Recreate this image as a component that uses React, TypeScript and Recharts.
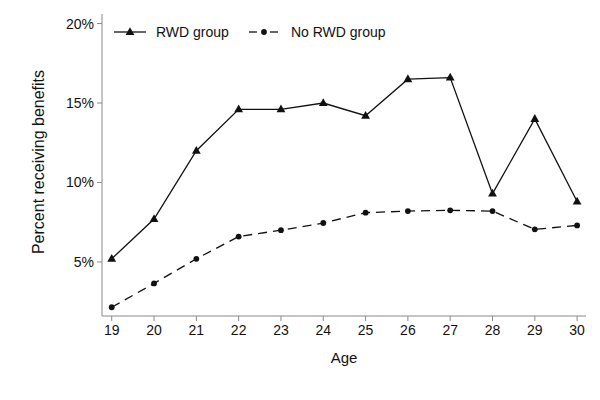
import React from 'react';
import { LineChart, Line, XAxis, YAxis, Legend, Label } from 'recharts';

const ages = [19, 20, 21, 22, 23, 24, 25, 26, 27, 28, 29, 30];
const rwdGroup = [5.2, 7.7, 12.0, 14.6, 14.6, 15.0, 14.2, 16.5, 16.6, 9.3, 14.0, 8.8];
const noRwdGroup = [2.15, 3.65, 5.2, 6.6, 7.0, 7.45, 8.1, 8.2, 8.25, 8.2, 7.05, 7.3];
const yTicks = [5, 10, 15, 20];

const data = ages.map((age, i) => ({ age, rwd: rwdGroup[i], noRwd: noRwdGroup[i] }));

const INK = '#111';
const AXIS = '#8a8a8a';
const FONT = '"Liberation Sans", Arial, Helvetica, sans-serif';

const Triangle = (props: any) => {
  const { cx, cy } = props;
  if (cx == null || cy == null) return null;
  return <path d={`M${cx},${cy - 4.8} L${cx + 4.4},${cy + 3} L${cx - 4.4},${cy + 3} Z`} fill={INK} />;
};

const Dot = (props: any) => {
  const { cx, cy } = props;
  if (cx == null || cy == null) return null;
  return <circle cx={cx} cy={cy} r={2.9} fill={INK} />;
};

const LegendContent = () => (
  <div style={{ display: 'flex', alignItems: 'center', fontFamily: FONT, fontSize: 14, color: '#111', whiteSpace: 'nowrap' }}>
    <svg width={34} height={12}>
      <line x1={0} y1={6} x2={32} y2={6} stroke={INK} strokeWidth={1.3} />
      <Triangle cx={16} cy={6} />
    </svg>
    <span style={{ marginLeft: 8 }}>RWD group</span>
    <svg width={30} height={12} style={{ marginLeft: 20 }}>
      <line x1={0} y1={6} x2={8} y2={6} stroke={INK} strokeWidth={1.3} />
      <line x1={21} y1={6} x2={29} y2={6} stroke={INK} strokeWidth={1.3} />
      <Dot cx={15} cy={6} />
    </svg>
    <span style={{ marginLeft: 12 }}>No RWD group</span>
  </div>
);

export default function App() {
  return (
    <div style={{ width: 600, height: 400, background: '#fff' }}>
      <LineChart width={600} height={400} data={data} margin={{ top: 6, right: 22, bottom: 62, left: 34 }}>
        <XAxis
          dataKey="age"
          type="number"
          domain={[18.77, 30.21]}
          ticks={ages}
          interval={0}
          stroke={AXIS}
          tickSize={5}
          tickMargin={4}
          height={30}
          tick={{ fill: '#111', fontSize: 14, fontFamily: FONT }}
        >
          <Label value="Age" position="bottom" offset={6} style={{ fill: '#111', fontSize: 15, fontFamily: FONT }} />
        </XAxis>
        <YAxis
          type="number"
          domain={[1.6, 20.6]}
          ticks={yTicks}
          width={60}
          stroke={AXIS}
          tickSize={5}
          tickMargin={3}
          tickFormatter={(v) => `${v}%`}
          tick={{ fill: '#111', fontSize: 14, fontFamily: FONT }}
        >
          <Label
            value="Percent receiving benefits"
            angle={-90}
            position="center"
            dx={-34}
            dy={-3}
            style={{ fill: '#111', fontSize: 16, fontFamily: FONT, textAnchor: 'middle' }}
          />
        </YAxis>
        <Legend
          layout="horizontal"
          verticalAlign="middle"
          align="center"
          wrapperStyle={{ top: 16, left: 106, width: 'auto', height: 'auto' }}
          content={<LegendContent />}
        />
        <Line
          dataKey="rwd"
          name="RWD group"
          stroke={INK}
          strokeWidth={1.3}
          dot={<Triangle />}
          activeDot={false}
          isAnimationActive={false}
        />
        <Line
          dataKey="noRwd"
          name="No RWD group"
          stroke={INK}
          strokeWidth={1.3}
          strokeDasharray="9 6"
          dot={<Dot />}
          activeDot={false}
          isAnimationActive={false}
        />
      </LineChart>
    </div>
  );
}
